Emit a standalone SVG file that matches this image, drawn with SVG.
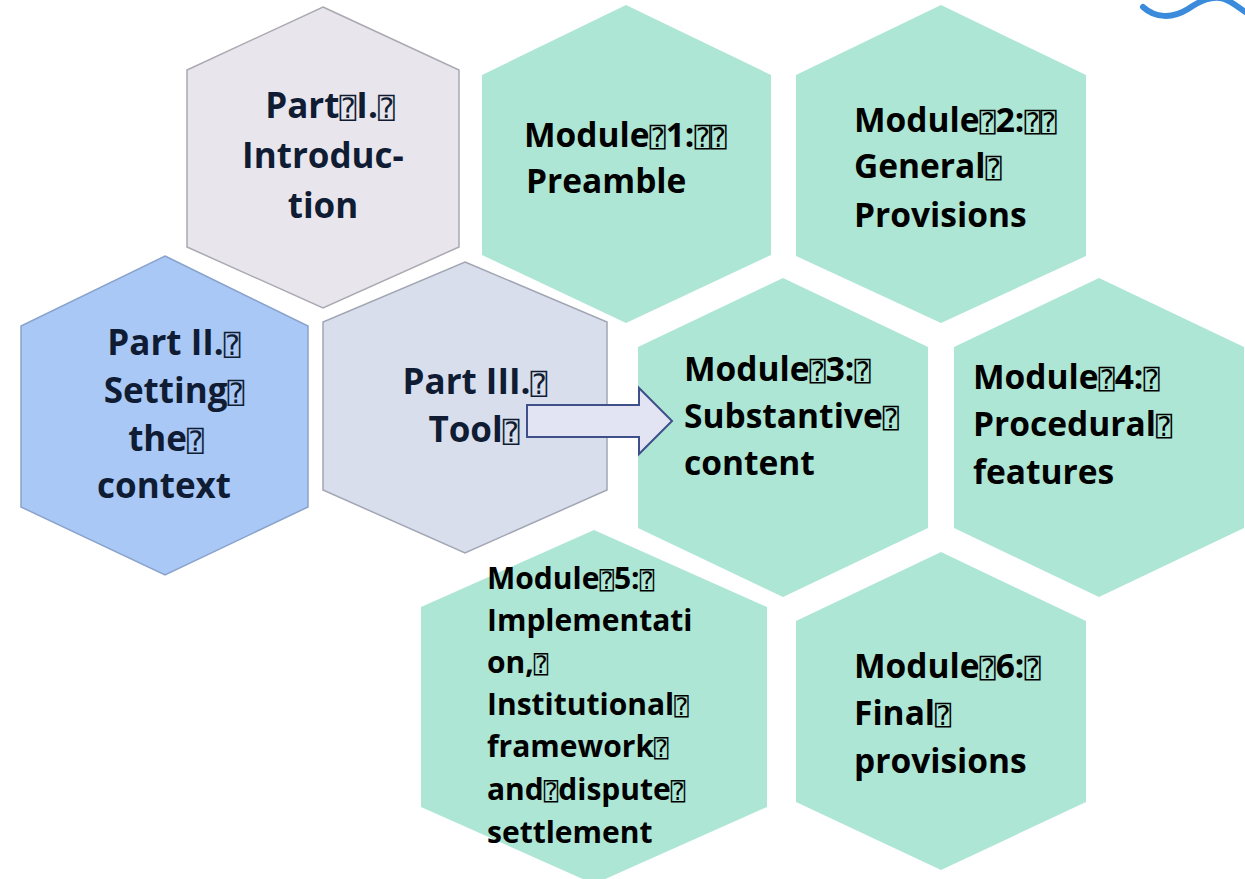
<svg xmlns="http://www.w3.org/2000/svg" width="1245" height="879" viewBox="0 0 1245 879">
<style>
.mod{fill:#ade6d4;stroke:none}
.p1{fill:#e8e6ec;stroke:#a9a9b2;stroke-width:1.5}
.p2{fill:#a9c8f5;stroke:#8aa3cc;stroke-width:1.5}
.p3{fill:#d9deec;stroke:#a2a6b4;stroke-width:1.5}
.pt{font-family:"Open Sans","Noto Sans","DejaVu Sans",sans-serif;font-weight:700;font-size:35px;fill:#0f1c33;text-anchor:middle}
.mt{font-family:"Open Sans","Noto Sans","DejaVu Sans",sans-serif;font-weight:700;font-size:33.5px;fill:#000}
.m5{font-size:30px}
.tf{font-family:"DejaVu Sans Mono","DejaVu Sans",monospace;font-weight:400;font-size:0.8em}
</style>
<rect width="1245" height="879" fill="#ffffff"/>
<path d="M1143,7 C1155,18 1172,19 1188,9 C1200,1 1212,-5 1224,-1 C1233,2 1240,9 1247,13" fill="none" stroke="#3b8bdc" stroke-width="6" stroke-linecap="round"/>

<g id="part1">
<polygon class="p1" points="323,7 459,70 459,247 323,308 187,247 187,70"/>
<text class="pt" x="330" y="118">Part<tspan class="tf">⍰</tspan>I.<tspan class="tf">⍰</tspan></text>
<text class="pt" x="323" y="168">Introduc-</text>
<text class="pt" x="323" y="218">tion</text>
</g>

<g id="module1">
<polygon class="mod" points="626,5 771,75 771,255 626,323 482,255 482,75"/>
<text class="mt" x="524" y="147">Module<tspan class="tf">⍰</tspan>1:<tspan class="tf">⍰⍰</tspan></text>
<text class="mt" x="526" y="193">Preamble</text>
</g>

<g id="module2">
<polygon class="mod" points="941,5 1086,75 1086,256 941,323 796,256 796,75"/>
<text class="mt" x="854" y="132">Module<tspan class="tf">⍰</tspan>2:<tspan class="tf">⍰⍰</tspan></text>
<text class="mt" x="854" y="178">General<tspan class="tf">⍰</tspan></text>
<text class="mt" x="854" y="227">Provisions</text>
</g>

<g id="part2">
<polygon class="p2" points="165,256 308,326 308,507 165,575 21,507 21,326"/>
<text class="pt" x="174" y="355">Part II.<tspan class="tf">⍰</tspan></text>
<text class="pt" x="174" y="403">Setting<tspan class="tf">⍰</tspan></text>
<text class="pt" x="166" y="451">the<tspan class="tf">⍰</tspan></text>
<text class="pt" x="164" y="498">context</text>
</g>

<g id="part3">
<polygon class="p3" points="465,262 607,322 607,490 465,553 323,490 323,322"/>
<text class="pt" x="475" y="394">Part III.<tspan class="tf">⍰</tspan></text>
<text class="pt" x="474" y="442">Tool<tspan class="tf">⍰</tspan></text>
</g>

<g id="module3">
<polygon class="mod" points="783,278 928,347 928,528 783,597 638,528 638,347"/>
<text class="mt" x="684" y="381">Module<tspan class="tf">⍰</tspan>3:<tspan class="tf">⍰</tspan></text>
<text class="mt" x="684" y="428">Substantive<tspan class="tf">⍰</tspan></text>
<text class="mt" x="684" y="475">content</text>
</g>

<g id="module4">
<polygon class="mod" points="1099,278 1244,347 1244,528 1099,597 954,528 954,347"/>
<text class="mt" x="973" y="389">Module<tspan class="tf">⍰</tspan>4:<tspan class="tf">⍰</tspan></text>
<text class="mt" x="973" y="436">Procedural<tspan class="tf">⍰</tspan></text>
<text class="mt" x="973" y="484">features</text>
</g>

<g id="module5">
<polygon class="mod" points="594,530 767,607 767,807 594,884 421,807 421,607"/>
<text class="mt m5" x="487" y="589">Module<tspan class="tf">⍰</tspan>5:<tspan class="tf">⍰</tspan></text>
<text class="mt m5" x="487" y="631">Implementati</text>
<text class="mt m5" x="487" y="673">on,<tspan class="tf">⍰</tspan></text>
<text class="mt m5" x="487" y="715">Institutional<tspan class="tf">⍰</tspan></text>
<text class="mt m5" x="487" y="757">framework<tspan class="tf">⍰</tspan></text>
<text class="mt m5" x="487" y="800">and<tspan class="tf">⍰</tspan>dispute<tspan class="tf">⍰</tspan></text>
<text class="mt m5" x="487" y="843">settlement</text>
</g>

<g id="module6">
<polygon class="mod" points="941,552 1086,621 1086,802 941,870 796,802 796,621"/>
<text class="mt" x="854" y="678">Module<tspan class="tf">⍰</tspan>6:<tspan class="tf">⍰</tspan></text>
<text class="mt" x="854" y="725">Final<tspan class="tf">⍰</tspan></text>
<text class="mt" x="854" y="773">provisions</text>
</g>

<g id="connectors">
<polygon points="527,405 639,405 639,388 672,421 639,454 639,437 527,437" fill="#e2e4f3" stroke="#3f4f8a" stroke-width="2" stroke-linejoin="miter"/>
</g>
</svg>
